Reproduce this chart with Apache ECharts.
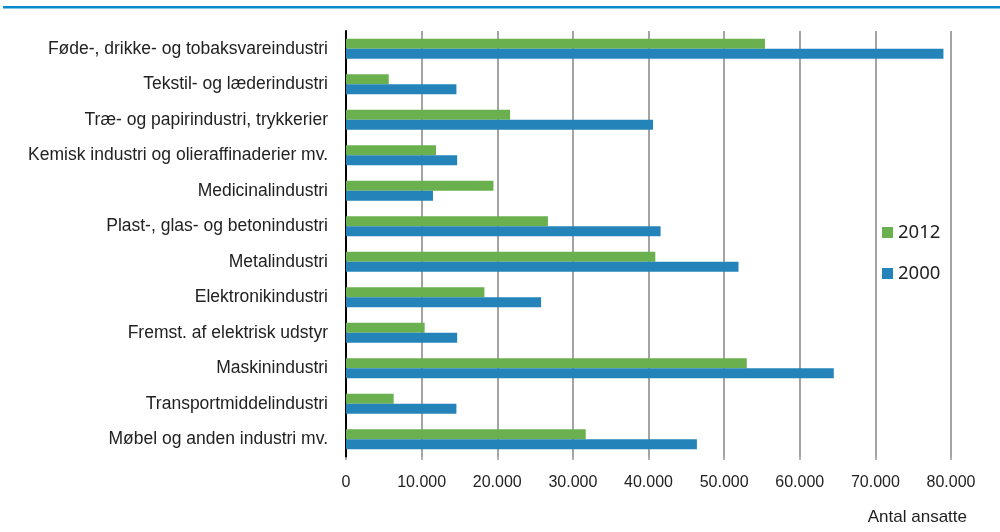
<!DOCTYPE html>
<html>
<head>
<meta charset="utf-8">
<script src="https://cdn.jsdelivr.net/npm/echarts@6/dist/echarts.min.js"></script>
<style>
  html, body { margin: 0; padding: 0; background: #fff; }
  #chart { width: 1000px; height: 532px; }
</style>
</head>
<body>
<div id="chart"></div>
<script>
// brancher, oppefra og ned
const categories = [
  'Føde-, drikke- og tobaksvareindustri',
  'Tekstil- og læderindustri',
  'Træ- og papirindustri, trykkerier',
  'Kemisk industri og olieraffinaderier mv.',
  'Medicinalindustri',
  'Plast-, glas- og betonindustri',
  'Metalindustri',
  'Elektronikindustri',
  'Fremst. af elektrisk udstyr',
  'Maskinindustri',
  'Transportmiddelindustri',
  'Møbel og anden industri mv.'
]
const values2012 = [55400, 5650, 21700, 11900, 19500, 26700, 40900, 18300, 10400, 53000, 6300, 31700]
const values2000 = [79000, 14600, 40600, 14700, 11500, 41600, 51900, 25800, 14700, 64500, 14600, 46400]

const green = '#6ab04f'
const blue = '#2484b9'
const fmt = (v) => v === 0 ? '0' : v.toLocaleString('da-DK')

const chart = echarts.init(document.getElementById('chart'))

const option = {
  animation: false,
  textStyle: { fontFamily: 'Liberation Sans, Arial, sans-serif' },
  graphic: [{
    type: 'rect',
    shape: { x: 3, y: 6, width: 997, height: 2.5 },
    style: { fill: '#0a8acb' }
  }, {
    type: 'text',
    right: 33,
    top: 509,
    style: {
      text: 'Antal ansatte',
      font: '17px "Liberation Sans", Arial, sans-serif',
      fill: '#222'
    }
  }],
  legend: {
    orient: 'vertical',
    left: 877,
    top: 218,
    itemWidth: 11,
    itemHeight: 11,
    itemGap: 22,
    icon: 'rect',
    textStyle: { fontSize: 18.5, color: '#222', fontFamily: 'Noto Sans, sans-serif' },
    data: ['2012', '2000']
  },
  grid: { left: 346, right: 49, top: 31, bottom: 75 },
  xAxis: {
    type: 'value',
    min: 0,
    max: 80000,
    interval: 10000,
    axisLine: { show: false },
    axisTick: { show: true, length: 3, lineStyle: { color: '#999', width: 1.5 } },
    splitLine: { show: true, lineStyle: { color: '#9a9a9a', width: 1.8 } },
    axisLabel: {
      formatter: fmt,
      margin: 18,
      fontSize: 16,
      color: '#222'
    }
  },
  yAxis: {
    type: 'category',
    inverse: true,
    data: categories,
    axisLine: { show: true, lineStyle: { color: '#000', width: 2 } },
    axisTick: { show: false },
    axisLabel: { fontSize: 17.5, color: '#222', margin: 18 }
  },
  series: [{
    name: '2012',
    type: 'bar',
    data: values2012,
    barWidth: 10,
    barGap: '0%',
    itemStyle: { color: green }
  }, {
    name: '2000',
    type: 'bar',
    data: values2000,
    barWidth: 10,
    barGap: '0%',
    itemStyle: { color: blue }
  }]
}

chart.setOption(option)
</script>
</body>
</html>
